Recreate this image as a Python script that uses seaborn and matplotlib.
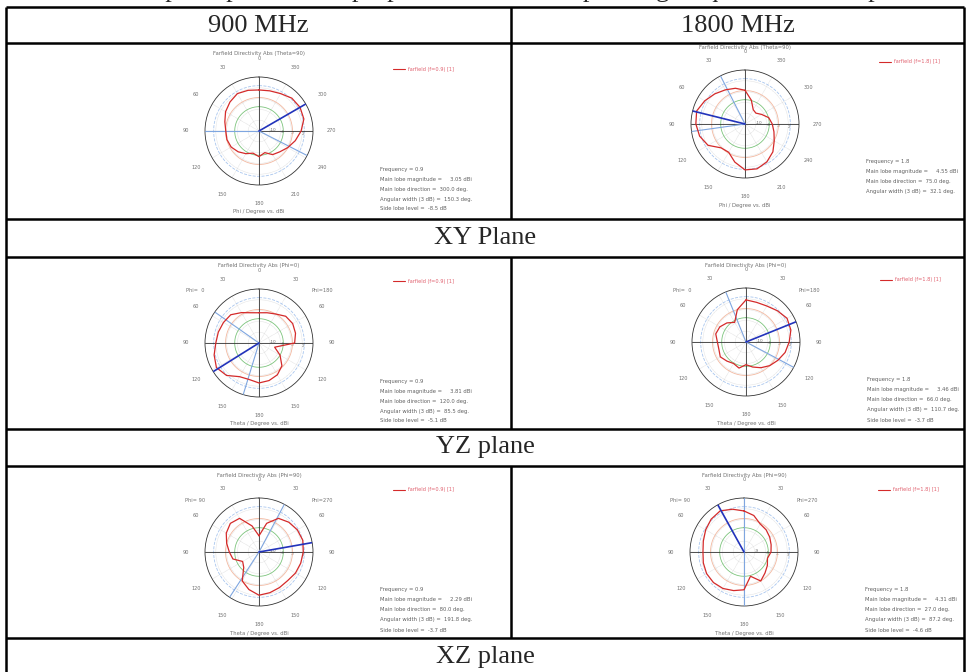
import numpy as np
import pandas as pd
import matplotlib
matplotlib.use("Agg")
import matplotlib.pyplot as plt
import seaborn as sns

# ---------------- data ----------------
angles_cw = list(range(0, 360, 15))   # screen angle, clockwise from top

xy_900_dbi = [0.7, 0.9, 1.5, 2.7, 3.05, 2.7, 1.1, -0.6, -2.2, -3.6, -4.4, -6.2,
              -5.0, -6.0, -4.8, -3.6, -2.6, -2.2, -2.2, -1.4, -0.2, 0.7, 1.5, 1.1]
xy_1800_dbi = [-1.5, -4.9, -7.9, -8.3, -6.9, -4.9, -3.9, -2.9, -1.5, 0.6, 2.2, 3.2,
               3.0, 0.6, -1.9, -1.5, 1.8, 3.4, 4.2, 4.55, 3.2, 1.8, 0.6, -0.3]
yz_900_dbi = [-3.2, -2.8, -2.0, -0.4, 0.0, -0.4, -1.2, -8.4, -5.4, -2.4, -0.8, 0.0,
              0.4, -0.4, 0.0, 2.6, 3.81, 2.8, 1.6, 1.2, 0.8, 0.4, -1.4, -2.8]
yz_1800_dbi = [1.5, 1.1, 1.3, 2.3, 3.46, 3.1, 1.9, 0.9, -0.5, -1.7, -3.1, -4.5,
               -5.7, -4.1, -4.9, -4.1, -3.1, -3.7, -3.5, -2.5, -2.9, -4.1, -5.7, -1.7]
xz_900_dbi = [-8.5, -3.5, -0.1, 1.1, 1.9, 2.29, 1.9, 1.5, 1.1, 0.5, 0.7, 1.1,
              1.5, -0.1, -2.1, -6.5, -7.5, -4.5, -3.5, -2.1, -0.5, 0.5, -0.1, -4.5]
xz_1800_dbi = [1.9, 0.7, -1.3, -1.7, -2.3, -2.9, -3.3, -4.3, -3.3, -2.3, -0.9, -4.0,
               0.7, 1.5, 2.3, 2.7, 2.7, 2.3, 1.9, 2.3, 3.1, 3.9, 4.31, 3.1]

panel_values = [xy_900_dbi, xy_1800_dbi, yz_900_dbi, yz_1800_dbi, xz_900_dbi, xz_1800_dbi]
panel_rlims = [(-14.5, 5.5), (-14.0, 6.0), (-14.4, 5.6), (-14.1, 5.9), (-14.5, 5.5), (-13.3, 6.7)]
panel_kinds = ["phi", "phi", "theta", "theta", "theta", "theta"]
panel_titles = ["Farfield Directivity Abs (Theta=90)", "Farfield Directivity Abs (Theta=90)",
                "Farfield Directivity Abs (Phi=0)", "Farfield Directivity Abs (Phi=0)",
                "Farfield Directivity Abs (Phi=90)", "Farfield Directivity Abs (Phi=90)"]
panel_xlabels = ["Phi / Degree vs. dBi", "Phi / Degree vs. dBi",
                 "Theta / Degree vs. dBi", "Theta / Degree vs. dBi",
                 "Theta / Degree vs. dBi", "Theta / Degree vs. dBi"]
panel_phi_tags = [None, None, ("Phi=  0", "Phi=180"), ("Phi=  0", "Phi=180"),
                  ("Phi= 90", "Phi=270"), ("Phi= 90", "Phi=270")]
panel_main_cw = [60, 284, 238, 68, 80, 331]
panel_width_cw = [(117, 270), (262, 333), (197, 305), (118, 338), (28, 213), (0, 180)]
panel_legend = ["farfield (f=0.9) [1]", "farfield (f=1.8) [1]"] * 3
panel_stats = [
    ["Frequency = 0.9", "Main lobe magnitude =     3.05 dBi", "Main lobe direction =  300.0 deg.",
     "Angular width (3 dB) =  150.3 deg.", "Side lobe level =  -8.5 dB"],
    ["Frequency = 1.8", "Main lobe magnitude =     4.55 dBi", "Main lobe direction =  75.0 deg.",
     "Angular width (3 dB) =  32.1 deg."],
    ["Frequency = 0.9", "Main lobe magnitude =     3.81 dBi", "Main lobe direction =  120.0 deg.",
     "Angular width (3 dB) =  85.5 deg.", "Side lobe level =  -5.1 dB"],
    ["Frequency = 1.8", "Main lobe magnitude =     3.46 dBi", "Main lobe direction =  66.0 deg.",
     "Angular width (3 dB) =  110.7 deg.", "Side lobe level =  -3.7 dB"],
    ["Frequency = 0.9", "Main lobe magnitude =     2.29 dBi", "Main lobe direction =  80.0 deg.",
     "Angular width (3 dB) =  191.8 deg.", "Side lobe level =  -3.7 dB"],
    ["Frequency = 1.8", "Main lobe magnitude =     4.31 dBi", "Main lobe direction =  27.0 deg.",
     "Angular width (3 dB) =  87.2 deg.", "Side lobe level =  -4.6 dB"],
]

column_headers = ["900 MHz", "1800 MHz"]
row_labels = ["XY Plane", "YZ plane", "XZ plane"]
intro_text = ("The simulated polar plots of the proposed antenna at operating frequencies are "
              "depicted in the table below for the three principal planes")

# ---------------- layout (pixels) ----------------
W, H = 969, 672
X_L, X_M, X_R = 6, 511, 964
Y_LINES = [7, 43, 219, 257, 429, 466, 638]
centers = [(259, 131), (745, 124), (259, 343), (746, 342), (259, 552), (744, 552)]
R = 54

sns.set_theme(style="white")
plt.rcParams["font.family"] = ["DejaVu Sans"]

fig = plt.figure(figsize=(W / 100, H / 100), dpi=100)
fig.patch.set_facecolor("white")

doc = fig.add_axes([0, 0, 1, 1])
doc.set_xlim(0, W)
doc.set_ylim(H, 0)
doc.axis("off")

# table lines
lw_tab = 1.8
for y in Y_LINES:
    doc.plot([X_L, X_R], [y, y], color="black", lw=lw_tab, solid_capstyle="butt")
for x in (X_L, X_R):
    doc.plot([x, x], [Y_LINES[0], H + 5], color="black", lw=lw_tab, solid_capstyle="butt")
for (y0, y1) in [(Y_LINES[0], Y_LINES[2]), (Y_LINES[3], Y_LINES[4]), (Y_LINES[5], Y_LINES[6])]:
    doc.plot([X_M, X_M], [y0, y1], color="black", lw=lw_tab, solid_capstyle="butt")

serif = ["Liberation Serif", "DejaVu Serif"]
doc.text(8, -3, intro_text, fontsize=19, family=serif, ha="left", va="baseline")
doc.text((X_L + X_M) / 2, 26, column_headers[0], fontsize=19, family=serif, ha="center", va="center")
doc.text((X_M + X_R) / 2, 26, column_headers[1], fontsize=19, family=serif, ha="center", va="center")
for lab, (ya, yb) in zip(row_labels, [(219, 257), (429, 466), (638, 676)]):
    doc.text((X_L + X_R) / 2, (ya + yb) / 2, lab, fontsize=19, family=serif, ha="center", va="center")

small_col = "#707070"


def draw_panel(i):
    cx, cy = centers[i]
    vals = panel_values[i]
    rmin, rmax = panel_rlims[i]
    ax = fig.add_axes([(cx - R) / W, 1 - (cy + R) / H, 2 * R / W, 2 * R / H], projection="polar")
    ax.set_theta_zero_location("N")
    ax.set_theta_direction(-1)
    ax.set_facecolor("none")

    th = np.deg2rad(angles_cw + [360])
    rr = vals + [vals[0]]
    df = pd.DataFrame({"theta": th, "r": rr})

    full = np.linspace(0, 2 * np.pi, 240)
    span = rmax - rmin
    # coloured reference rings
    for frac, col, ls in [(0.45, "#7cc47c", "-"), (0.62, "#f2b8a0", "-"), (0.84, "#a9c6ee", "--")]:
        ax.plot(full, np.full_like(full, rmin + frac * span), color=col, lw=0.6, ls=ls, zorder=1)
    # cross axes
    for a in (0, 90, 180, 270):
        ax.plot([np.deg2rad(a)] * 2, [rmin, rmax], color="#333333", lw=0.6, zorder=2)
    # angular width lines
    for a in panel_width_cw[i]:
        ax.plot([np.deg2rad(a)] * 2, [rmin, rmax], color="#7fa6e0", lw=0.8, zorder=3)

    sns.lineplot(data=df, x="theta", y="r", ax=ax, sort=False, estimator=None,
                 color="#d42a2a", linewidth=0.9, legend=False, zorder=4)
    # main lobe direction
    ax.plot([np.deg2rad(panel_main_cw[i])] * 2, [rmin, rmax], color="#2233bb", lw=1.2, zorder=5)

    ax.set_ylim(rmin, rmax)
    ax.set_xlabel("")
    ax.set_ylabel("")
    ticks = list(range(0, 360, 30))
    ax.set_xticks(np.deg2rad(ticks))
    if panel_kinds[i] == "phi":
        labs = [str((360 - a) % 360) for a in ticks]
    else:
        labs = [str(a if a <= 180 else 360 - a) for a in ticks]
    ax.set_xticklabels(labs, fontsize=3.6, color=small_col)
    ax.tick_params(axis="x", pad=0.5)
    rt = [rmin + f * span for f in (0.2, 0.4, 0.6, 0.8)]
    ax.set_yticks(rt)
    ax.set_yticklabels([f"{v:.0f}" for v in rt], fontsize=3.0, color=small_col)
    ax.set_rlabel_position(97)
    ax.grid(True, color="#c8c8c8", lw=0.35, ls=(0, (1, 1)))
    ax.spines["polar"].set_color("#333333")
    ax.spines["polar"].set_linewidth(0.6)

    # texts around the polar plot
    doc.text(cx, cy - R - 23, panel_titles[i], fontsize=3.8, color=small_col, ha="center", va="center")
    doc.text(cx, cy + R + 27, panel_xlabels[i], fontsize=3.8, color=small_col, ha="center", va="center")
    if panel_phi_tags[i] is not None:
        doc.text(cx - 64, cy - 52, panel_phi_tags[i][0], fontsize=3.6, color=small_col, ha="center", va="center")
        doc.text(cx + 63, cy - 52, panel_phi_tags[i][1], fontsize=3.6, color=small_col, ha="center", va="center")
    doc.plot([cx + 134, cx + 146], [cy - 62, cy - 62], color="#d42a2a", lw=0.8)
    doc.text(cx + 149, cy - 62, panel_legend[i], fontsize=3.6, color="#e0606e", ha="left", va="center")
    for k, line in enumerate(panel_stats[i]):
        doc.text(cx + 121, cy + 38 + 10 * k, line, fontsize=3.8, color="#606060", ha="left", va="center")


for i in range(6):
    draw_panel(i)

fig.savefig("out.png", dpi=100, facecolor="white")
